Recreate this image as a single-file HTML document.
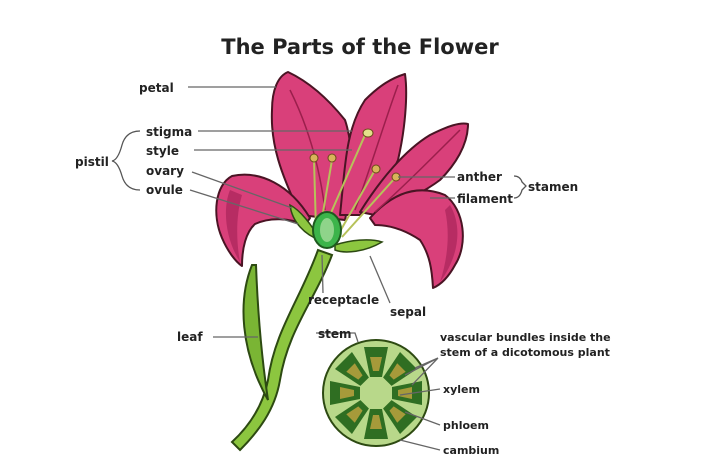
<!DOCTYPE html>
<html><head><meta charset="utf-8"><style>
html,body{margin:0;padding:0;background:#fff;}
svg{display:block}
text{font-family:"DejaVu Sans","Liberation Sans",sans-serif;font-weight:bold;fill:#222;}
</style></head><body>
<svg width="720" height="474" viewBox="0 0 720 474">
<text x="360" y="54" font-size="21" text-anchor="middle">The Parts of the Flower</text>
<path d="M318,250 C300,300 275,330 268,380 C262,410 245,430 232,442 L240,450 C258,432 275,410 280,380 C288,330 315,300 332,255 Z" fill="#8cc63f" stroke="#2d4a12" stroke-width="2"/>
<path d="M252,265 C238,300 240,350 268,400 C262,360 258,320 256,265 Z" fill="#7ab534" stroke="#2d4a12" stroke-width="2"/>
<g fill="#d9407a" stroke="#4a1424" stroke-width="2" stroke-linejoin="round">
<path d="M300,215 C285,180 270,150 272,110 C272,90 278,76 288,72 C305,80 325,95 345,120 C355,150 352,190 345,220 Z"/>
<path d="M340,215 C345,170 345,130 365,100 C380,85 392,78 405,74 C408,95 405,130 398,160 C385,190 370,205 360,215 Z"/>
<path d="M360,212 C380,180 405,150 430,135 C448,126 460,122 468,124 C468,145 455,165 440,180 C420,195 395,205 375,215 Z"/>
<path d="M370,218 C395,190 420,185 445,195 C465,210 468,245 455,265 C448,278 440,285 433,288 C432,270 430,255 420,240 C405,230 390,225 375,225 Z"/>
<path d="M310,218 C290,185 260,170 232,176 C215,185 212,215 222,238 C228,252 236,262 242,266 C242,248 246,232 255,224 C270,217 290,218 305,225 Z"/>
</g>
<g fill="#a8245a" opacity="0.7">
<path d="M230,190 C222,210 226,240 240,262 C236,240 236,215 242,195 Z"/>
<path d="M450,205 C462,225 460,255 440,282 C448,258 450,232 445,210 Z"/>
</g>
<g fill="none" stroke="#9b1f4c" stroke-width="1.5">
<path d="M290,90 C310,130 320,170 325,210"/>
<path d="M398,85 C385,120 370,170 355,210"/>
<path d="M460,130 C430,160 400,190 375,212"/>
</g>
<path d="M290,205 C300,210 312,225 320,240 C305,235 292,222 290,205 Z" fill="#8cc63f" stroke="#2d4a12" stroke-width="1.5"/>
<path d="M335,245 C350,240 370,238 382,242 C365,252 345,254 335,250 Z" fill="#8cc63f" stroke="#2d4a12" stroke-width="1.5"/>
<g stroke="#b7c25a" stroke-width="2" fill="none">
<path d="M316,230 L314,160"/><path d="M320,230 L332,160"/>
<path d="M338,235 L375,170"/><path d="M342,237 L395,178"/>
<path d="M330,215 L365,135"/>
</g>
<g fill="#d8b45a" stroke="#6b4a1a" stroke-width="1">
<circle cx="314" cy="158" r="4"/><circle cx="332" cy="158" r="4"/>
<circle cx="376" cy="169" r="4"/><circle cx="396" cy="177" r="4"/>
<ellipse cx="368" cy="133" rx="5" ry="4" fill="#e4e08a"/>
</g>
<ellipse cx="327" cy="230" rx="14" ry="18" fill="#3cb44a" stroke="#1e5a1e" stroke-width="2"/>
<ellipse cx="327" cy="230" rx="7" ry="12" fill="#8fd48a"/>
<circle cx="376" cy="393" r="53" fill="#b8d88a" stroke="#2d4a12" stroke-width="2"/>
<g transform="translate(376,393)">
<g id="w"><path d="M-12,-46 L12,-46 L6,-16 L-6,-16 Z" fill="#2f6e22"/><path d="M-6,-36 L6,-36 L3,-22 L-3,-22 Z" fill="#a69a3a"/></g>
<use href="#w" transform="rotate(45)"/><use href="#w" transform="rotate(90)"/><use href="#w" transform="rotate(135)"/>
<use href="#w" transform="rotate(180)"/><use href="#w" transform="rotate(225)"/><use href="#w" transform="rotate(270)"/><use href="#w" transform="rotate(315)"/>
</g>
<g stroke="#666" stroke-width="1.3" fill="none">
<path d="M188,87 L276,87"/>
<path d="M198,131 L352,131"/><path d="M194,150 L352,150"/>
<path d="M192,172 L292,208"/><path d="M190,190 L298,224"/>
<path d="M455,177 L398,177"/><path d="M455,198 L430,198"/>
<path d="M323,293 L322,255"/><path d="M390,303 L370,256"/>
<path d="M213,337 L258,337"/>
<path d="M316,333 L355,333 L358,342"/>
<path d="M438,358 L415,368 M438,358 L405,375 M438,358 L412,385"/>
<path d="M440,389 L400,395"/><path d="M440,425 L405,412"/><path d="M440,450 L400,440"/>
</g>
<g stroke="#555" stroke-width="1.3" fill="none">
<path d="M140,131 Q126,131 122,145 Q118,160 112,161 Q118,162 122,176 Q126,190 140,190"/>
<path d="M514,176 Q520,176 522,182 L526,186 L522,190 Q520,198 514,198"/>
</g>
<g font-size="12">
<text x="139" y="92">petal</text>
<text x="146" y="136">stigma</text>
<text x="146" y="155">style</text>
<text x="146" y="175">ovary</text>
<text x="146" y="194">ovule</text>
<text x="75" y="166">pistil</text>
<text x="457" y="181">anther</text>
<text x="457" y="203">filament</text>
<text x="528" y="191">stamen</text>
<text x="308" y="304">receptacle</text>
<text x="390" y="316">sepal</text>
<text x="177" y="341">leaf</text>
<text x="318" y="338">stem</text>
</g>
<g font-size="11">
<text x="440" y="341">vascular bundles inside the</text>
<text x="440" y="356">stem of a dicotomous plant</text>
<text x="443" y="393">xylem</text>
<text x="443" y="429">phloem</text>
<text x="443" y="454">cambium</text>
</g>
</svg>
</body></html>
